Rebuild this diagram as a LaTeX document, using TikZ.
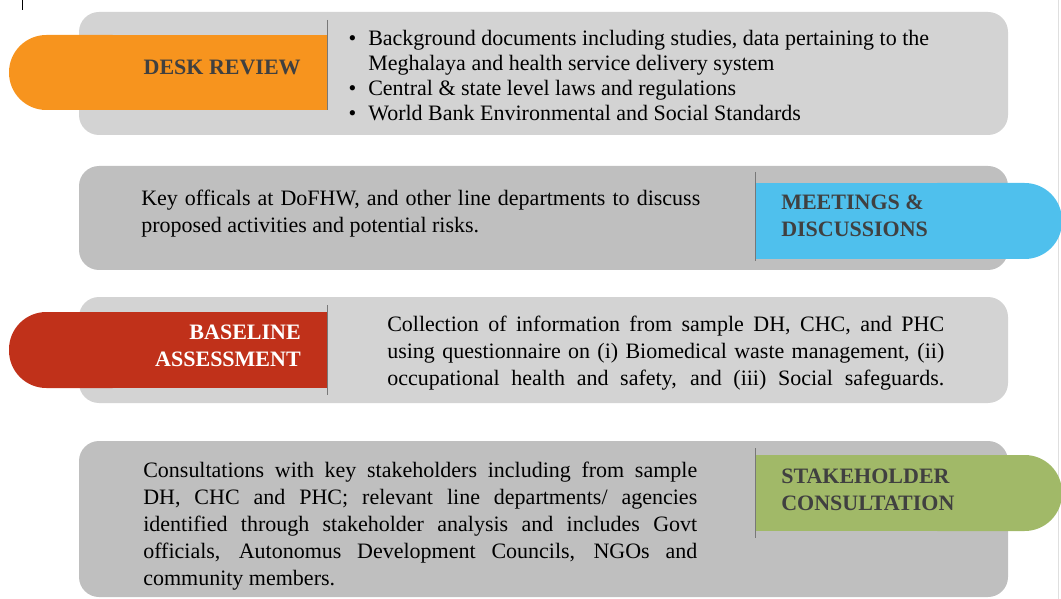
\documentclass[tikz,border=0pt]{standalone}
\usepackage{fontspec}
\setmainfont{Liberation Serif}
\definecolor{deskorange}{RGB}{247,148,30}
\definecolor{meetblue}{RGB}{79,192,237}
\definecolor{basered}{RGB}{192,49,26}
\definecolor{stakegreen}{RGB}{161,185,104}
\definecolor{panellight}{RGB}{211,211,211}
\definecolor{paneldark}{RGB}{191,191,191}
\definecolor{labelgray}{RGB}{64,64,64}
\definecolor{dividergray}{RGB}{120,120,120}
\newcommand{\deskbullet}{\leavevmode\llap{\textbullet\hspace{9pt}}}

\begin{document}
\begin{tikzpicture}[x=0.75pt,y=-0.75pt,
  tabtext/.style={inner sep=0pt,font=\fontsize{16.5}{20.25}\selectfont\bfseries,text=labelgray},
  bodytext/.style={inner sep=0pt,font=\fontsize{16.5}{20.25}\selectfont},
  divider/.style={draw=dividergray,line width=0.75pt}]
\useasboundingbox (0,0) rectangle (1061,599);

\draw[black,line width=0.75pt] (22,0) -- (22,10);
\draw[gray!25,line width=0.75pt] (1058,0) -- (1058,599);

% desk review
\fill[panellight,rounded corners=15pt] (79,12) rectangle (1008,135);
\fill[deskorange,rounded corners=28pt] (9,35) rectangle (150,110);
\fill[deskorange] (80,35) rectangle (327,110);
\draw[divider] (327,20) -- (327,110);
\node[tabtext,anchor=base east] (desk) at (301,74.5) {DESK REVIEW};
\node[bodytext,anchor=base west] (deskitems) at (368,46) {\parbox[t]{450pt}{\fontsize{16.5}{18.75}\selectfont\raggedright
  \deskbullet Background documents including studies, data pertaining to the\newline Meghalaya and health service delivery system\par
  \deskbullet Central \& state level laws and regulations\par
  \deskbullet World Bank Environmental and Social Standards}};

% meetings
\fill[paneldark,rounded corners=15pt] (79,166) rectangle (1008,270);
\fill[meetblue,rounded corners=28pt] (900,183) rectangle (1062,259);
\fill[meetblue] (755,183) rectangle (980,259);
\draw[divider] (755,172) -- (755,261);
\node[tabtext,anchor=base west] (meet) at (781,210) {\parbox[t]{200pt}{MEETINGS \&\\DISCUSSIONS}};
\node[bodytext,anchor=base west] (meettext) at (141,206) {\parbox[t]{419.25pt}{Key officals at DoFHW, and other line departments to discuss\linebreak proposed activities and potential risks.}};

% baseline
\fill[panellight,rounded corners=15pt] (79,297) rectangle (1008,403);
\fill[basered,rounded corners=28pt] (9,312) rectangle (150,388);
\fill[basered] (80,312) rectangle (327,388);
\draw[divider] (327,305) -- (327,395);
\node[tabtext,text=white,anchor=base east] (base) at (301,339.5) {\parbox[t]{200pt}{\raggedleft BASELINE\\ASSESSMENT}};
\node[bodytext,anchor=base west] (basetext) at (387,331) {\parbox[t]{417.75pt}{\parfillskip=0pt Collection of information from sample DH, CHC, and PHC\linebreak using questionnaire on (i) Biomedical waste management, (ii)\linebreak occupational health and safety, and (iii) Social safeguards.}};

% stakeholder
\fill[paneldark,rounded corners=15pt] (79,441) rectangle (1008,597);
\fill[stakegreen,rounded corners=28pt] (900,455) rectangle (1062,531);
\fill[stakegreen] (755,455) rectangle (980,531);
\draw[divider] (755,448) -- (755,538);
\node[tabtext,anchor=base west] (stake) at (781,483) {\parbox[t]{200pt}{STAKEHOLDER\\CONSULTATION}};
\node[bodytext,anchor=base west] (staketext) at (143,477) {\parbox[t]{415.5pt}{Consultations with key stakeholders including from sample\linebreak DH, CHC and PHC; relevant line departments/ agencies\linebreak identified through stakeholder analysis and includes Govt\linebreak officials, Autonomus Development Councils, NGOs and\linebreak community members.}};
\end{tikzpicture}
\end{document}
